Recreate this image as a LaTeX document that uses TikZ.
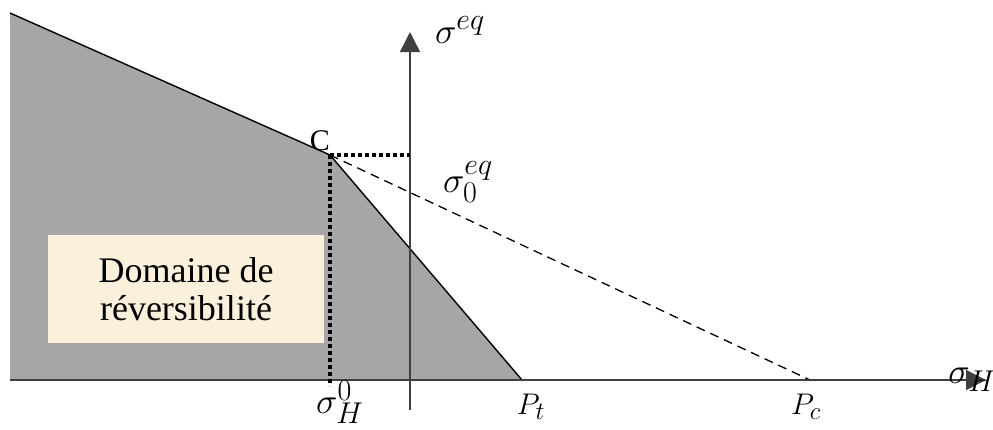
\documentclass[tikz,border=0pt]{standalone}
\usepackage{fontspec}
\setmainfont{Liberation Serif}
\usetikzlibrary{arrows.meta}
\definecolor{regiongray}{HTML}{A6A6A6}
\definecolor{boxbeige}{HTML}{FBF0DC}
\newcommand{\bigsig}[1]{\scalebox{1.45}{\Huge$#1$}}
\newcommand{\plabel}[1]{\scalebox{1.2}{\Huge$P_{#1}$}}
\begin{document}
\begin{tikzpicture}[x=1pt,y=-1pt,
  axisline/.style={line width=1.4pt,draw=black!75,-{Triangle[length=20pt,width=20pt]}},
  edge/.style={line width=1.4pt,draw=black},
  dotline/.style={line width=4pt,draw=black,dash pattern=on 4pt off 3pt},
  dashline/.style={line width=1.3pt,draw=black,dash pattern=on 9pt off 6pt},
  lbl/.style={inner sep=0pt},
  siglbl/.style={inner sep=0pt}]
\useasboundingbox (0,0) rectangle (993,429);
\coordinate (TL) at (10,13);
\coordinate (C) at (330,155);
\coordinate (Pt) at (522,380);
\coordinate (Pc) at (810,380);
\coordinate (BL) at (10,380);
\coordinate (Xs) at (10,380);
\coordinate (Xe) at (986,380);
\coordinate (Ys) at (410,410);
\coordinate (Ye) at (410,32);
\coordinate (Cy) at (410,155);
\coordinate (Cx) at (330,386);
% region
\fill[regiongray] (TL) -- (C) -- (Pt) -- (BL) -- cycle;
\draw[edge] (TL) -- (C) -- (Pt);
\draw[dashline] (C) -- (Pc);
% box
\node[fill=boxbeige,minimum width=276pt,minimum height=108pt,inner sep=0pt,align=center,
  font=\fontsize{36}{38}\selectfont] (box) at (186,289) {Domaine de\\réversibilité};
% axes
\draw[axisline] (Xs) -- (Xe);
\draw[axisline] (Ys) -- (Ye);
% dotted
\draw[dotline] (C) -- (Cy);
\draw[dotline] (C) -- (Cx);
% labels
\node[lbl] (lPt) at (531,407) {\plabel{t}};
\node[lbl] (lPc) at (806,407) {\plabel{c}};
\node[lbl] (lC) at (320,141) {{\fontsize{30}{34}\selectfont C}};
\node[siglbl] (seq) at (460,30) {\bigsig{\sigma^{eq}}};
\node[siglbl] (s0eq) at (468,182) {\bigsig{\sigma_0^{eq}}};
\node[siglbl] (sH) at (972,380) {\bigsig{\sigma_H}};
\node[siglbl] (sH0) at (340,402) {\bigsig{\sigma_H^0}};
\end{tikzpicture}
\end{document}
